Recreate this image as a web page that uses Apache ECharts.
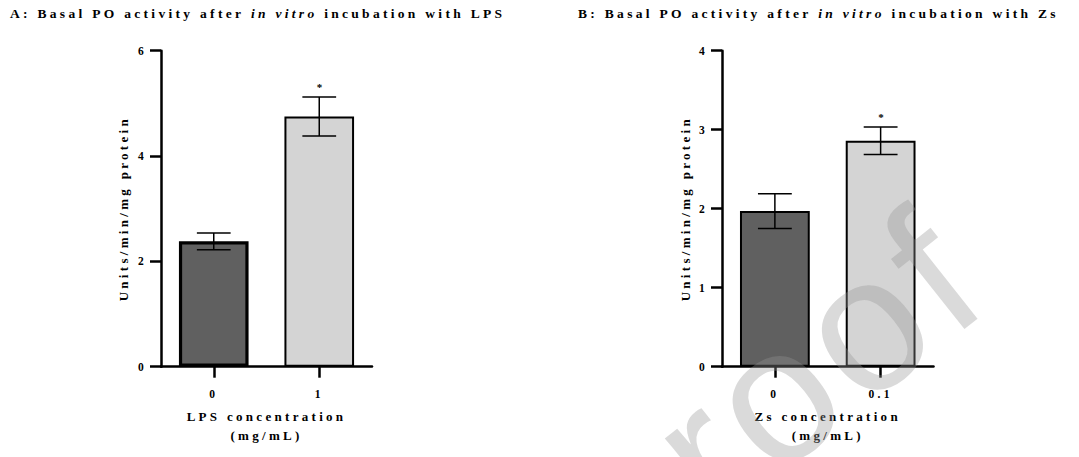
<!DOCTYPE html>
<html>
<head>
<meta charset="utf-8">
<script src="https://cdn.jsdelivr.net/npm/echarts@6/dist/echarts.min.js"></script>
<style>
  html, body { margin: 0; padding: 0; background: #fff; }
  #container { width: 1079px; height: 457px; }
  #container text { letter-spacing: 3.3px; }
  #container text[style*="190px"] { letter-spacing: 8px; }
</style>
</head>
<body>
<div id="container"></div>
<script>
// panel A: LPS
const groupsA = ['0', '1'];
const meansA = [2.38, 4.75];
const semsA = [0.16, 0.37];
const starsA = ['', '*'];

// panel B: Zs
const groupsB = ['0', '0.1'];
const meansB = [1.97, 2.86];
const semsB = [0.22, 0.175];
const starsB = ['', '*'];

const barColors = ['#606060', '#d4d4d4'];
const SPACING = 3.3;
const FONT = "'Liberation Serif', 'Times New Roman', serif";

// letters are spaced out in the figure, so text measuring has to know it
const measureCtx = document.createElement('canvas').getContext('2d');
if (echarts.setPlatformAPI) {
    echarts.setPlatformAPI({
        measureText: function (text, font) {
            measureCtx.font = font || '12px sans-serif';
            return {width: measureCtx.measureText(text).width + text.length * SPACING};
        }
    });
}

function draw_panels() {
    let dom = document.getElementById('container');
    let myChart = echarts.init(dom, null, {renderer: 'svg'});

    function barData(means, firstBorder) {
        return means.map(function (v, i) {
            return {
                value: v,
                itemStyle: {
                    color: barColors[i],
                    borderColor: '#000',
                    borderWidth: i === 0 ? firstBorder : 2
                }
            };
        });
    }

    function errData(means, sems, stars) {
        return means.map(function (v, i) {
            return [i, v, sems[i], stars[i]];
        });
    }

    function makeRenderer(stars) {
        return function (params, api) {
            let x = api.value(0);
            let mean = api.value(1);
            let sem = api.value(2);
            let star = stars[params.dataIndex];
            let top = api.coord([x, mean + sem]);
            let bottom = api.coord([x, mean - sem]);
            let half = api.size([1, 0])[0] * 0.16;
            let style = {stroke: '#000', lineWidth: 1.5};
            let children = [
                {type: 'line', shape: {x1: top[0], y1: top[1], x2: bottom[0], y2: bottom[1]}, style: style},
                {type: 'line', shape: {x1: top[0] - half, y1: top[1], x2: top[0] + half, y2: top[1]}, style: style},
                {type: 'line', shape: {x1: bottom[0] - half, y1: bottom[1], x2: bottom[0] + half, y2: bottom[1]}, style: style}
            ];
            if (star) {
                children.push({
                    type: 'text',
                    style: {
                        text: star, x: top[0] + 2, y: top[1] - 3,
                        align: 'center', verticalAlign: 'bottom',
                        font: 'bold 11px ' + FONT, fill: '#000'
                    }
                });
            }
            return {type: 'group', children: children};
        };
    }

    let axisLine = {show: true, lineStyle: {color: '#000', width: 2.5}};
    let axisTick = {show: true, length: 11, lineStyle: {color: '#000', width: 2.5}};
    let labelStyle = {color: '#000', fontFamily: FONT, fontWeight: 'bold', fontSize: 11.5};
    let nameStyle = {color: '#000', fontFamily: FONT, fontWeight: 'bold', fontSize: 13, lineHeight: 19};

    function xAxisFor(gridIndex, groups, name) {
        return {
            type: 'category', gridIndex: gridIndex, data: groups,
            axisLine: axisLine,
            axisTick: Object.assign({alignWithLabel: true}, axisTick),
            axisLabel: Object.assign({margin: 20}, labelStyle),
            name: name, nameLocation: 'middle', nameGap: 34,
            nameTextStyle: nameStyle,
            splitLine: {show: false}
        };
    }

    function yAxisFor(gridIndex, max, interval, gap) {
        return {
            type: 'value', gridIndex: gridIndex, min: 0, max: max, interval: interval,
            axisLine: axisLine, axisTick: axisTick,
            axisLabel: Object.assign({margin: 14}, labelStyle),
            name: 'Units/min/mg protein', nameLocation: 'middle', nameGap: gap,
            nameTextStyle: nameStyle,
            splitLine: {show: false}
        };
    }

    let titleRich = {
        b: {fontFamily: FONT, fontWeight: 'bold', fontSize: 13.5, color: '#000'},
        i: {fontFamily: FONT, fontWeight: 'bold', fontStyle: 'italic', fontSize: 13.5, color: '#000'}
    };

    let option = {
        animation: false,
        backgroundColor: '#fff',
        title: [
            {
                left: 10, top: 5, padding: 0,
                text: '{b|A: Basal PO activity after }{i|in vitro}{b| incubation with LPS}',
                textStyle: {rich: titleRich}
            },
            {
                left: 578, top: 5, padding: 0,
                text: '{b|B: Basal PO activity after }{i|in vitro}{b| incubation with Zs}',
                textStyle: {rich: titleRich}
            }
        ],
        grid: [
            {left: 161, top: 50.7, width: 211, height: 316, containLabel: false},
            {left: 722, top: 50.7, width: 211.5, height: 316, containLabel: false}
        ],
        xAxis: [
            xAxisFor(0, groupsA, 'LPS concentration\n(mg/mL)'),
            xAxisFor(1, groupsB, 'Zs concentration\n(mg/mL)')
        ],
        yAxis: [
            yAxisFor(0, 6, 2, 28.5),
            yAxisFor(1, 4, 1, 26.5)
        ],
        series: [
            {type: 'bar', xAxisIndex: 0, yAxisIndex: 0, barWidth: '66%', data: barData(meansA, 3.2), z: 2},
            {type: 'bar', xAxisIndex: 1, yAxisIndex: 1, barWidth: '66%', data: barData(meansB, 2), z: 2},
            {type: 'custom', xAxisIndex: 0, yAxisIndex: 0, renderItem: makeRenderer(starsA),
                data: errData(meansA, semsA, starsA), z: 3},
            {type: 'custom', xAxisIndex: 1, yAxisIndex: 1, renderItem: makeRenderer(starsB),
                data: errData(meansB, semsB, starsB), z: 3}
        ],
        graphic: [
            {
                // journal watermark
                type: 'text', x: 958, y: 250, rotation: 0.67, z: 100, silent: true,
                style: {
                    text: 'roof', align: 'right', verticalAlign: 'middle',
                    font: "190px 'Liberation Sans', Arial, sans-serif",
                    fill: 'rgba(150,150,150,0.35)'
                }
            }
        ]
    };

    if (option && typeof option === 'object') {
        myChart.setOption(option, true);
    }
}

draw_panels();
</script>
</body>
</html>
